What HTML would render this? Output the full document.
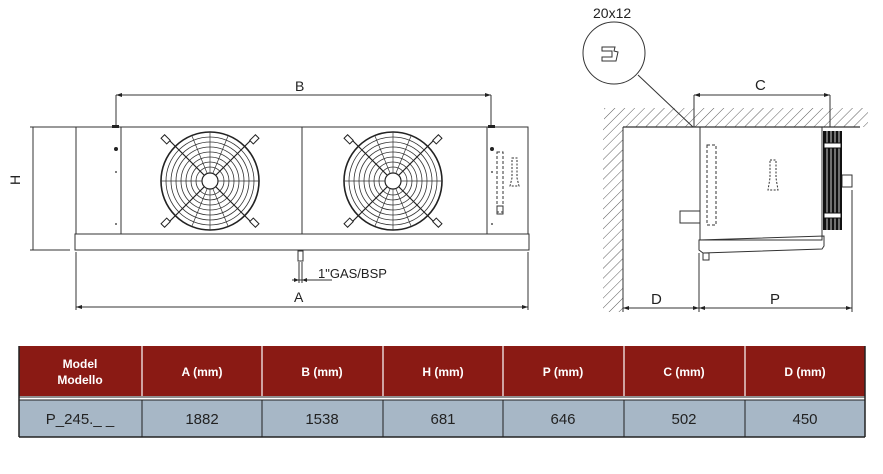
<!DOCTYPE html>
<html><head><meta charset="utf-8"><style>
body{margin:0;background:#fff;width:883px;height:469px;overflow:hidden;font-family:"Liberation Sans",sans-serif}
</style></head><body>
<svg width="883" height="469" viewBox="0 0 883 469" xmlns="http://www.w3.org/2000/svg" font-family="Liberation Sans, sans-serif">
<defs>
<pattern id="h" width="7" height="7" patternUnits="userSpaceOnUse" patternTransform="rotate(45)">
<line x1="0" y1="0" x2="0" y2="7" stroke="#333" stroke-width="0.8"/></pattern>
<g id="fan">
<circle r="49" fill="none" stroke="#222" stroke-width="1.6"/>
<circle r="44" fill="none" stroke="#333" stroke-width="0.8"/>
<circle r="39" fill="none" stroke="#333" stroke-width="0.8"/>
<circle r="34" fill="none" stroke="#333" stroke-width="0.8"/>
<circle r="29" fill="none" stroke="#333" stroke-width="0.8"/>
<circle r="24" fill="none" stroke="#333" stroke-width="0.8"/>
<circle r="19" fill="none" stroke="#333" stroke-width="0.8"/>
<circle r="14" fill="none" stroke="#333" stroke-width="0.8"/>
<circle r="8" fill="#fff" stroke="#222" stroke-width="1.2"/>
<g stroke="#222" stroke-width="1.2"><line x1="-42" y1="-42" x2="-6" y2="-6"/><line x1="42" y1="-42" x2="6" y2="-6"/><line x1="-42" y1="42" x2="-6" y2="6"/><line x1="42" y1="42" x2="6" y2="6"/></g>
<g stroke="#333" stroke-width="0.7"><line x1="0" y1="-49" x2="0" y2="-8"/><line x1="0" y1="49" x2="0" y2="8"/><line x1="-49" y1="0" x2="-8" y2="0"/><line x1="49" y1="0" x2="8" y2="0"/>
<line x1="-18" y1="-45" x2="-3" y2="-8"/><line x1="18" y1="-45" x2="3" y2="-8"/><line x1="-18" y1="45" x2="-3" y2="8"/><line x1="18" y1="45" x2="3" y2="8"/></g>
<g fill="#fff" stroke="#222" stroke-width="1"><rect x="-48" y="-44" width="8" height="5" transform="rotate(45 -44 -42)"/><rect x="40" y="-44" width="8" height="5" transform="rotate(-45 44 -42)"/><rect x="-48" y="39" width="8" height="5" transform="rotate(-45 -44 42)"/><rect x="40" y="39" width="8" height="5" transform="rotate(45 44 42)"/></g>
</g>
</defs>
<!-- left drawing -->
<g stroke="#333" fill="none" stroke-width="1">
<rect x="76" y="127" width="452" height="107"/>
<line x1="121" y1="127" x2="121" y2="234"/>
<line x1="302" y1="127" x2="302" y2="234"/>
<line x1="487" y1="127" x2="487" y2="234"/>
<rect x="75" y="234" width="454" height="16"/>
<rect x="298" y="251" width="5" height="10"/>
<line x1="299" y1="262" x2="299" y2="283"/><line x1="302" y1="262" x2="302" y2="283"/>
<line x1="292" y1="280" x2="332" y2="280"/>
<rect x="497" y="152" width="6" height="60" stroke-dasharray="3,2"/>
<rect x="497" y="206" width="6" height="8"/>
<path d="M512 158h5v20l2 8h-9l2-8z" stroke-dasharray="2,1.5"/>
<line x1="116" y1="95" x2="491" y2="95"/><line x1="116" y1="95" x2="116" y2="127"/><line x1="491" y1="95" x2="491" y2="127"/>
<line x1="30" y1="127" x2="115" y2="127"/><line x1="30" y1="250" x2="70" y2="250"/><line x1="33" y1="127" x2="33" y2="250"/>
<line x1="76" y1="252" x2="76" y2="310"/><line x1="528" y1="252" x2="528" y2="310"/><line x1="76" y1="307" x2="528" y2="307"/>
</g>
<rect x="112" y="125" width="7" height="3" fill="#222"/><rect x="488" y="125" width="7" height="3" fill="#222"/>
<circle cx="116" cy="149" r="2" fill="#222"/><circle cx="116" cy="172" r="1" fill="#555"/><circle cx="116" cy="224" r="1" fill="#555"/>
<circle cx="492" cy="149" r="2" fill="#222"/><circle cx="492" cy="172" r="1" fill="#555"/><circle cx="492" cy="224" r="1" fill="#555"/>
<use href="#fan" x="210" y="181"/><use href="#fan" x="393" y="181"/>
<g fill="#222"><path d="M116 95l6-2v4z"/><path d="M491 95l-6-2v4z"/><path d="M76 307l6-2v4z"/><path d="M528 307l-6-2v4z"/><path d="M299 280l-5-2v4z"/><path d="M302 280l5-2v4z"/></g>
<g font-size="14" fill="#222"><text x="295" y="91">B</text><text x="294" y="302">A</text><text x="318" y="278" font-size="13">1"GAS/BSP</text>
<text x="24" y="189" transform="rotate(-90 20 189)">H</text></g>
<!-- right drawing -->
<rect x="604" y="108" width="264" height="19" fill="url(#h)"/>
<rect x="603" y="127" width="20" height="185" fill="url(#h)"/>
<rect x="624" y="127" width="244" height="3" fill="#fff"/>
<g stroke="#333" fill="none" stroke-width="1">
<line x1="623" y1="127" x2="860" y2="127" stroke-width="1.3"/>
<line x1="623" y1="127" x2="623" y2="312"/>
<circle cx="614" cy="53" r="31"/>
<path d="M602 47h13l-1 4 4 1-2 9h-14v-4h10v-6h-10z"/>
<line x1="638" y1="75" x2="693" y2="127"/>
<rect x="700" y="127" width="122" height="113"/>
<rect x="707" y="145" width="9" height="80" stroke-dasharray="3,2"/>
<rect x="680" y="211" width="20" height="12"/>
<path d="M770 160h6v18l2 12h-10l2-12z" stroke-dasharray="2,1.5"/>
<path d="M699 240l125-4v10l-2 3-119 4-4-3z"/>
<rect x="703" y="253" width="6" height="7"/>
<rect x="842" y="175" width="10" height="12"/>
<line x1="694" y1="95" x2="830" y2="95"/><line x1="694" y1="95" x2="694" y2="127"/><line x1="830" y1="95" x2="830" y2="127"/>
<line x1="699" y1="253" x2="699" y2="312"/><line x1="852" y1="190" x2="852" y2="312"/>
<line x1="623" y1="308" x2="852" y2="308"/>
</g>
<rect x="823" y="131" width="19" height="99" fill="#111"/>
<g stroke="#fff" stroke-width="0.8"><line x1="827" y1="131" x2="827" y2="230"/><line x1="831" y1="131" x2="831" y2="230"/><line x1="835" y1="131" x2="835" y2="230"/><line x1="839" y1="131" x2="839" y2="230"/></g>
<rect x="824" y="143" width="17" height="5" fill="#fff" stroke="#111"/><rect x="824" y="213" width="17" height="5" fill="#fff" stroke="#111"/>
<g fill="#222"><path d="M694 95l6-2v4z"/><path d="M830 95l-6-2v4z"/><path d="M623 308l6-2v4z"/><path d="M699 308l-6-2v4z"/><path d="M699 308l6-2v4z"/><path d="M852 308l-6-2v4z"/></g>
<g font-size="15" fill="#222"><text x="593" y="18" font-size="14">20x12</text><text x="755" y="90">C</text><text x="651" y="304">D</text><text x="770" y="304">P</text></g>
<!-- table -->
<rect x="19" y="346" width="846" height="50" fill="#8a1a14"/>
<rect x="19" y="400" width="846" height="37" fill="#a7b7c6"/>
<line x1="19" y1="437" x2="865" y2="437" stroke="#222" stroke-width="1.5"/>
<line x1="19" y1="346" x2="19" y2="437" stroke="#222" stroke-width="1.5"/>
<line x1="865" y1="346" x2="865" y2="437" stroke="#222" stroke-width="1.5"/>
<line x1="19" y1="397" x2="865" y2="397" stroke="#222" stroke-width="1"/>
<line x1="19" y1="400" x2="865" y2="400" stroke="#222" stroke-width="1"/>
<g stroke="#fff" stroke-width="1.2"><line x1="142" y1="346" x2="142" y2="396"/><line x1="262" y1="346" x2="262" y2="396"/><line x1="383" y1="346" x2="383" y2="396"/><line x1="503" y1="346" x2="503" y2="396"/><line x1="624" y1="346" x2="624" y2="396"/><line x1="745" y1="346" x2="745" y2="396"/></g>
<g stroke="#222" stroke-width="1"><line x1="142" y1="400" x2="142" y2="437"/><line x1="262" y1="400" x2="262" y2="437"/><line x1="383" y1="400" x2="383" y2="437"/><line x1="503" y1="400" x2="503" y2="437"/><line x1="624" y1="400" x2="624" y2="437"/><line x1="745" y1="400" x2="745" y2="437"/></g>
<g fill="#fff" font-size="12" font-weight="bold" text-anchor="middle">
<text x="80" y="368">Model</text><text x="80" y="384">Modello</text>
<text x="202" y="376">A (mm)</text><text x="322" y="376">B (mm)</text><text x="443" y="376">H (mm)</text><text x="563" y="376">P (mm)</text><text x="684" y="376">C (mm)</text><text x="805" y="376">D (mm)</text></g>
<g fill="#222" font-size="15" text-anchor="middle">
<text x="80" y="424">P_245._ _</text><text x="202" y="424">1882</text><text x="322" y="424">1538</text><text x="443" y="424">681</text><text x="563" y="424">646</text><text x="684" y="424">502</text><text x="805" y="424">450</text></g>
</svg>
</body></html>
